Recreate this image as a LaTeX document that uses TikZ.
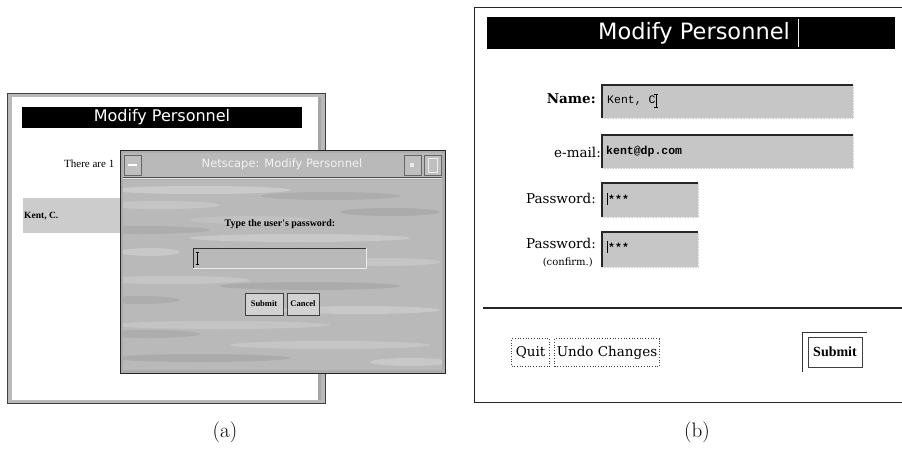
\documentclass[tikz,border=0pt]{standalone}
\usepackage{fontspec}
\newfontfamily\uisans{DejaVu Sans}
\newfontfamily\uiserif{DejaVu Serif}
\newfontfamily\uitimes{Liberation Serif}
\newfontfamily\uimono{Liberation Mono}
\newcommand{\fsz}[1]{\fontsize{#1}{#1}\selectfont}

\tikzset{
  titlebar/.style={fill=black},
  titletext/.style={text=white, inner sep=0pt},
  sunken/.style={fill=gray!45},
  btnbox/.style={draw=black!75, fill=white, line width=0.7pt, inner sep=2pt},
  caption/.style={font=\fsz{21}, inner sep=0pt},
  fieldlabel/.style={anchor=east, inner sep=0pt, font=\uiserif\fsz{13.5}},
}

\begin{document}
\begin{tikzpicture}[x=1pt,y=-1pt]
\useasboundingbox (0,0) rectangle (902,450);
\fill[white] (0,0) rectangle (902,450);

% ---------------- (a) browser window with password dialog ----------------
\fill[gray!55] (7,93) rectangle (325,403);
\fill[white] (12,97) rectangle (318,400);
\draw[black!75, line width=0.8pt] (7,93) rectangle (325,403);
\fill[gray!70] (318,97) rectangle (321,400);

\fill[titlebar] (22,107) rectangle (302,128);
\node[titletext, font=\uisans\fsz{16}] (atitle) at (162,117.5) {Modify Personnel};

\node[anchor=west, inner sep=0pt, font=\uitimes\fsz{11}] (acount) at (64,164) {There are 1};

\fill[gray!40] (23,198) rectangle (122,233);
\node[anchor=west, inner sep=0pt, font=\uitimes\bfseries\fsz{9.5}] (akent) at (24,216) {Kent, C.};

% dialog window
\fill[gray!65] (120,150) rectangle (445,373);
\draw[black!85, line width=1pt] (120,150) rectangle (445,373);
% title bar
\fill[gray!55] (123,153) rectangle (442,177);
\draw[white!80!gray, line width=0.8pt] (123,178.5) -- (442,178.5);
\draw[black!70, line width=0.6pt] (123,177) -- (442,177);
\draw[black!60, fill=gray!50, line width=0.6pt] (124,155) rectangle (141,175);
\draw[white, line width=1.2pt] (128,165) -- (137,165);
\draw[black!60, fill=gray!50, line width=0.6pt] (404,155) rectangle (421,175);
\fill[white!85!gray] (410,163) rectangle (414,167);
\draw[black!60, fill=gray!50, line width=0.6pt] (424,155) rectangle (441,175);
\draw[white!85!gray, line width=0.8pt] (428,158) rectangle (437,172);
\node[titletext, text=white!90!gray, font=\uisans\fsz{11.5}] (dtitle) at (282,164) {Netscape: Modify Personnel};

% dialog body with a streaked texture
\fill[gray!55] (123,180) rectangle (442,370);
\begin{scope}
  \clip (123,180) rectangle (442,370);
  \foreach \yy/\xx/\ww/\tone in {
    190/200/90/38, 196/330/70/66, 205/160/60/42, 212/390/50/68,
    230/140/70/66, 238/300/110/40, 252/150/30/40, 262/380/60/42,
    280/170/80/42, 286/310/90/68, 300/140/40/66, 310/360/80/40,
    325/220/110/44, 334/150/50/66, 345/330/100/42, 358/200/90/68,
    362/410/40/40, 220/250/60/46}
    \fill[gray!\tone, opacity=0.8] (\xx,\yy) ellipse [x radius=\ww, y radius=4];
\end{scope}

\node[inner sep=0pt, font=\uitimes\bfseries\fsz{10}] (dprompt) at (280,224) {Type the user's password:};

\fill[gray!55] (193,248) rectangle (366,268);
\draw[black!80, line width=0.8pt] (193,268) -- (193,248) -- (366,248);
\draw[white!85!gray, line width=0.8pt] (366,248) -- (366,268) -- (193,268);
\draw[black, line width=0.8pt] (197,252) -- (197,264) (195.5,252) -- (198.5,252) (195.5,264) -- (198.5,264);

\node[btnbox, fill=gray!35, minimum width=38pt, minimum height=22pt,
      font=\uitimes\bfseries\fsz{8.5}] (dsubmit) at (264,304) {Submit};
\node[btnbox, fill=gray!35, minimum width=32pt, minimum height=22pt,
      font=\uitimes\bfseries\fsz{8.5}] (dcancel) at (303,304) {Cancel};

\node[caption] (capa) at (225,432) {(a)};

% ---------------- (b) edit form ----------------
\draw[black!85, line width=0.9pt] (902,7) -- (474,7) -- (474,402) -- (902,402);

\fill[titlebar] (487,17) rectangle (895,49);
\node[titletext, font=\uisans\fsz{22.5}] (btitle) at (694,33) {Modify Personnel};
\draw[white!85!gray, line width=0.8pt] (798,19) -- (798,47);

\node[fieldlabel, font=\uiserif\bfseries\fsz{13.5}] (lname) at (596,99) {Name:};
\node[fieldlabel] (lmail) at (601,152) {e-mail:};
\node[fieldlabel] (lpass) at (596,198) {Password:};
\node[fieldlabel] (lpass2) at (596,243) {Password:};
\node[fieldlabel, font=\uiserif\fsz{10}] (lconf) at (593,262) {(confirm.)};

% sunken entry fields
\foreach \xa/\ya/\xb/\yb in {602/85/853/118, 602/135/853/168, 602/183/698/217, 602/232/698/267}{
  \fill[sunken] (\xa,\ya) rectangle (\xb,\yb);
  \draw[black!85, line width=1.6pt] (\xa,\yb) -- (\xa,\ya) -- (\xb,\ya);
  \draw[gray!35, line width=0.6pt, densely dotted] (\xa,\yb) -- (\xb,\yb) -- (\xb,\ya);
}
\node[anchor=west, inner sep=0pt, font=\uimono\fsz{11.5}] (vname) at (607,101) {Kent, C};
\draw[black, line width=0.8pt] (656,94) -- (656,107) (654,94) -- (658,94) (654,107) -- (658,107);
\node[anchor=west, inner sep=0pt, font=\uimono\bfseries\fsz{11.5}] (vmail) at (606,152) {kent@dp.com};
\node[anchor=west, inner sep=0pt, font=\uimono\bfseries\fsz{11.5}] (vpass) at (608,199) {***};
\draw[black, line width=0.7pt] (607,193) -- (607,205);
\node[anchor=west, inner sep=0pt, font=\uimono\bfseries\fsz{11.5}] (vpass2) at (608,247) {***};
\draw[black, line width=0.7pt] (607,241) -- (607,253);

\draw[black!85, line width=1.2pt] (483,308) -- (902,308);

\node[btnbox, dotted, minimum width=38pt, minimum height=28pt, font=\uiserif\fsz{13.5}] (bquit) at (530.5,352.5) {Quit};
\node[btnbox, dotted, minimum width=104pt, minimum height=28pt, font=\uiserif\fsz{13.5}] (bundo) at (607,352.5) {Undo Changes};
\draw[black!80, line width=0.8pt] (802,372) -- (802,332) -- (867,332);
\node[btnbox, line width=1pt, minimum width=54pt, minimum height=30pt, font=\uitimes\bfseries\fsz{14}] (bsubmit) at (835,352) {Submit};

\node[caption] (capb) at (697,432) {(b)};
\end{tikzpicture}
\end{document}
